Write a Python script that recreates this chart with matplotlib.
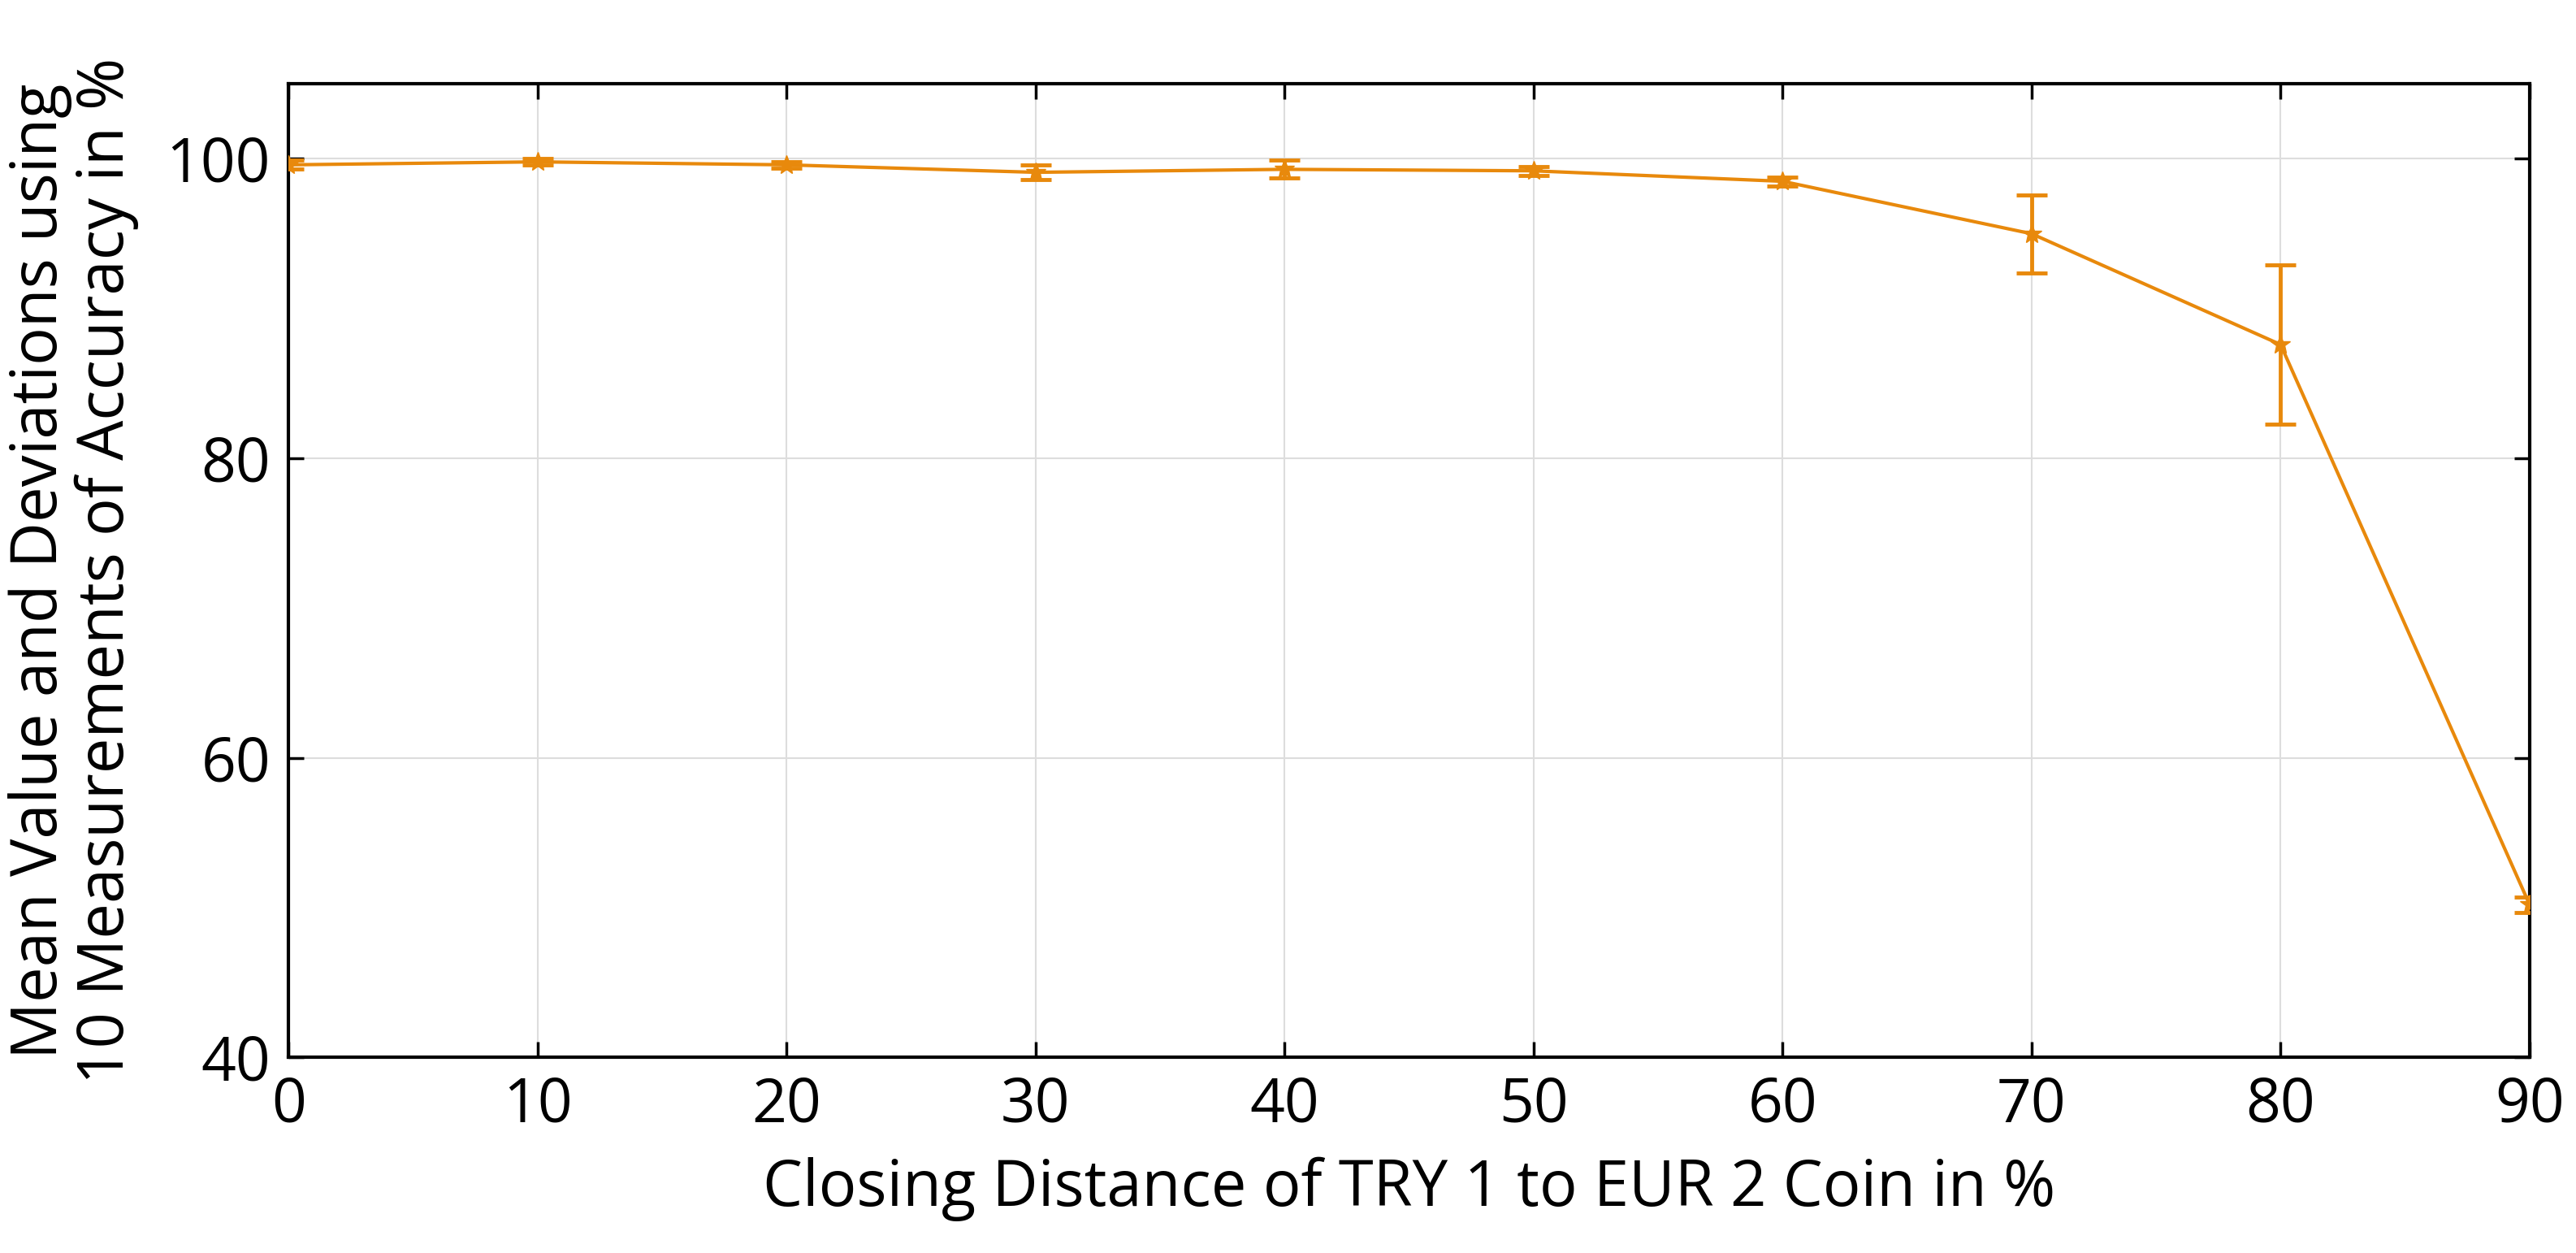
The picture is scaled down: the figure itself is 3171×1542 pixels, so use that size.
import matplotlib
matplotlib.use("Agg")
import matplotlib.pyplot as plt

# ── Data ──────────────────────────────────────────────────────────────────────
distance = [0, 10, 20, 30, 40, 50, 60, 70, 80, 90]
accuracy = [99.6, 99.8, 99.6, 99.1, 99.3, 99.2, 98.5, 95.0, 87.6, 50.2]
deviation = [0.3, 0.2, 0.2, 0.5, 0.6, 0.3, 0.3, 2.6, 5.3, 0.5]

ORANGE = "#E8890C"

plt.rcParams["font.family"] = ["Open Sans", "DejaVu Sans"]

fig = plt.figure(figsize=(31.71, 15.42), dpi=100)
ax = fig.add_axes([0.112, 0.156, 0.870, 0.777])

ax.errorbar(distance, accuracy, yerr=deviation, color=ORANGE, lw=3,
            marker="*", ms=18, capsize=14, elinewidth=3.5, capthick=3.5, zorder=3)

ax.set_xlim(0, 90)
ax.set_ylim(40, 105)
ax.set_xticks(range(0, 91, 10))
ax.set_yticks([40, 60, 80, 100])
ax.grid(True, color="#DDDDDD", lw=1.5)
ax.tick_params(direction="in", length=14, width=2.5, labelsize=54, pad=16,
               top=True, right=True)
for sp in ax.spines.values():
    sp.set_linewidth(3)

ax.set_xlabel("Closing Distance of TRY 1 to EUR 2 Coin in %", fontsize=56, labelpad=18)
ax.set_ylabel("Mean Value and Deviations using\n10 Measurements of Accuracy in %",
              fontsize=56, labelpad=24, linespacing=1.05)

fig.savefig("out.png", dpi=100, facecolor="white")
